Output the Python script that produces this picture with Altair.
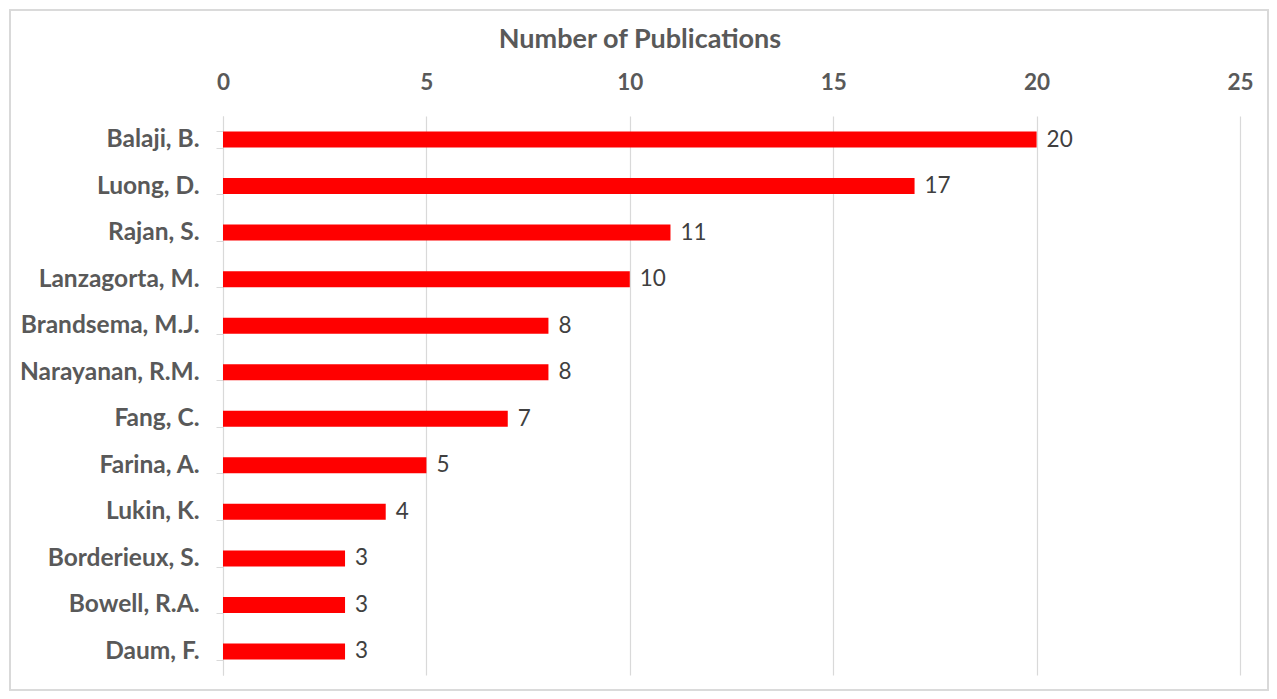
import altair as alt
import pandas as pd

authors = ["Balaji, B.", "Luong, D.", "Rajan, S.", "Lanzagorta, M.", "Brandsema, M.J.",
           "Narayanan, R.M.", "Fang, C.", "Farina, A.", "Lukin, K.", "Borderieux, S.",
           "Bowell, R.A.", "Daum, F."]
publications = [20, 17, 11, 10, 8, 8, 7, 5, 4, 3, 3, 3]
x_ticks = [0, 5, 10, 15, 20, 25]
title_text = ["Number of Publications"]

df = pd.DataFrame({"author": authors, "pubs": publications})

FONT = "Lato"
GRAY = "#595959"

y_enc = alt.Y("author:N", sort=authors, title=None,
              scale=alt.Scale(paddingInner=0.65, paddingOuter=0.33),
              axis=alt.Axis(labelFont=FONT, labelFontWeight="bold", labelFontSize=24.5,
                            labelColor=GRAY, labelPadding=17, tickSize=7,
                            tickColor="#d9d9d9", domainColor="#d9d9d9",
                            tickBand="extent", grid=False))
x_enc = alt.X("pubs:Q", title=None,
              scale=alt.Scale(domain=[0, 25], nice=False),
              axis=alt.Axis(orient="top", values=x_ticks, labelFont=FONT,
                            labelFontWeight="bold", labelFontSize=22.5, labelColor=GRAY,
                            labelPadding=22, labelFlush=False, domain=False, ticks=False,
                            grid=True, gridColor="#d9d9d9", gridWidth=1.2))

bars = alt.Chart(df).mark_bar(color="#ff0000", size=16).encode(x=x_enc, y=y_enc)

labels = alt.Chart(df).mark_text(align="left", dx=10, font=FONT, fontSize=22.5,
                                 color="#404040", baseline="middle").encode(
    x=alt.X("pubs:Q"), y=alt.Y("author:N", sort=authors), text="pubs:Q")

border = alt.Chart(df).mark_rect(fill=None, stroke="#d9d9d9", strokeWidth=1.2,
                                 clip=False).encode(
    x=alt.value(-213), x2=alt.value(1045), y=alt.value(-106), y2=alt.value(574))

title = alt.Chart(pd.DataFrame({"t": title_text})).mark_text(
    font=FONT, fontSize=27, fontWeight="bold", color=GRAY,
    align="center", baseline="middle", clip=False).encode(
    x=alt.value(417), y=alt.value(-76), text="t:N")

chart = alt.layer(border, bars, labels, title).properties(
    width=1017, height=559,
    autosize=alt.AutoSizeParams(type="none"),
    padding={"left": 215, "top": 108, "right": 29, "bottom": 17},
).configure_view(stroke=None)

chart.save("out.html", embed_options={"renderer": "svg", "actions": False})
